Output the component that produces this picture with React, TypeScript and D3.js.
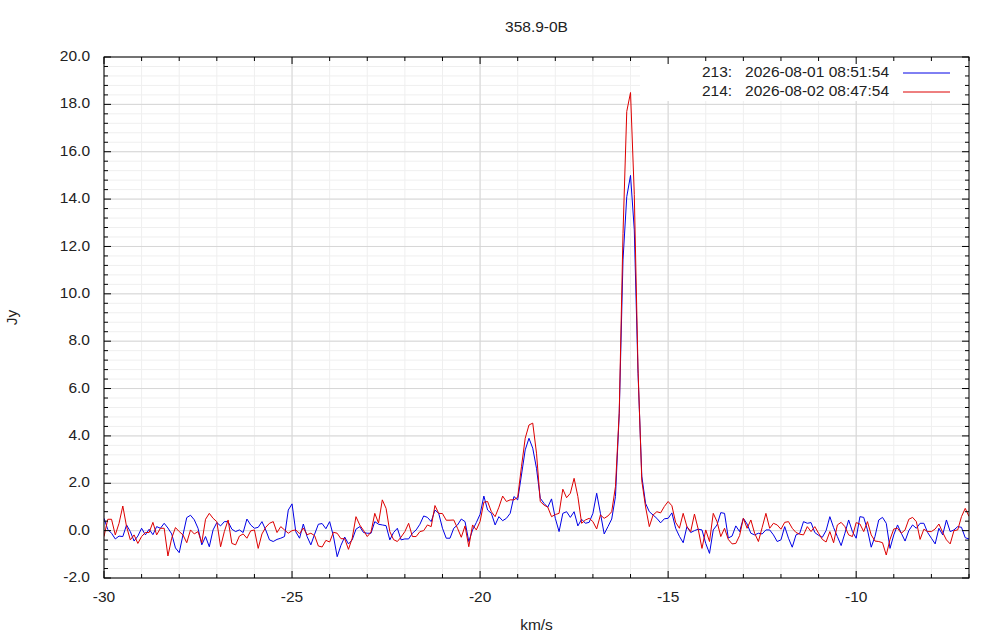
import React from 'react';
import * as d3 from 'd3';

// channel axis (km/s)
const V_START = -30;
const V_STEP = 0.1;

// scan 213 (2026-08-01 08:51:54), Jy per channel
const scan213 = [
  0.52, 0.05, -0.11, -0.35, -0.23, -0.25, 0.24, -0.04, -0.44, -0.23,
  0.1, -0.18, 0.06, -0.17, 0.17, 0.1, 0.31, 0.11, -0.14, -0.73,
  -0.93, -0.18, 0.55, 0.65, 0.46, 0.1, -0.6, -0.25, -0.68, 0.03,
  0.34, 0.2, 0.38, 0.38, 0.06, -0.04, 0.03, -0.08, 0.49, 0.24,
  0.1, 0.14, 0.38, 0.03, -0.39, -0.46, -0.37, -0.32, -0.25, 0.87,
  1.13, -0.05, -0.32, 0.28, -0.25, -0.6, -0.15, 0.27, 0.3, 0.08,
  0.38, -0.23, -1.1, -0.62, -0.27, -0.56, -0.39, 0.06, 0.17, -0.08,
  -0.11, -0.11, 0.38, 0.27, 0.24, 0.21, -0.39, -0.08, 0.1, -0.39,
  -0.35, -0.35, -0.11, 0.03, 0.27, 0.62, 0.56, 0.38, 0.87, 0.73,
  0.1, -0.32, -0.32, 0.1, 0.24, 0.49, 0.38, -0.46, 0.03, 0.34,
  0.69, 1.46, 0.87, 0.73, 0.24, 0.59, 0.42, 0.52, 0.73, 1.44,
  1.3, 2.35, 3.41, 3.9, 3.48, 2.63, 1.37, 1.15, 0.99, 1.34,
  0.52, -0.04, 0.73, 0.8, 0.56, 0.8, 0.2, 0.48, 0.31, 0.35,
  0.73, 1.58, 0.73, -0.14, 0.17, 0.49, 1.44, 4.95, 11.43, 14.1,
  15.0, 12.7, 6.63, 2.3, 1.15, 0.8, 0.66, 0.52, 0.33, 0.5,
  0.52, 0.75, 0.1, -0.24, -0.51, 0.17, -0.08, 0.0, 0.06, 0.03,
  -0.54, -0.96, 0.03, 0.24, 0.76, 0.73, -0.31, -0.23, 0.2, -0.04,
  0.52, 0.28, -0.11, -0.18, -0.11, -0.14, 0.03, 0.03, -0.18, -0.46,
  -0.39, 0.17, -0.32, -0.7, -0.18, -0.11, 0.38, 0.31, 0.34, -0.08,
  -0.2, -0.28, 0.0, 0.59, 0.13, -0.25, -0.63, -0.11, 0.45, -0.04,
  -0.32, 0.59, 0.56, 0.03, -0.7, -0.25, 0.45, 0.56, 0.31, -0.75,
  -0.18, 0.24, -0.11, -0.44, 0.0, 0.24, 0.1, 0.31, 0.31, -0.08,
  -0.32, -0.56, 0.1, -0.18, 0.45, -0.04, 0.03, 0.17, 0.14, -0.3,
  -0.35,
];

// scan 214 (2026-08-02 08:47:54)
const scan214 = [
  -0.25, 0.48, 0.48, -0.18, 0.31, 1.04, 0.17, -0.39, -0.18, -0.54,
  -0.25, -0.08, -0.08, 0.35, -0.18, 0.1, 0.1, -1.07, -0.32, 0.13,
  -0.04, -0.18, -0.51, 0.03, -0.14, -0.04, -0.51, 0.48, 0.73, 0.52,
  0.38, -0.68, -0.04, 0.45, -0.54, -0.6, -0.23, -0.14, -0.32, -0.01,
  0.03, -0.75, -0.14, 0.14, 0.31, 0.38, -0.08, 0.17, 0.03, -0.11,
  0.0, 0.03, -0.13, 0.11, -0.17, -0.11, -0.21, -0.65, -0.69, -0.41,
  -0.48, -0.07, -0.11, -0.34, -0.34, -0.79, -0.32, 0.59, 0.24, 0.01,
  -0.25, -0.06, 0.73, 0.32, 1.3, 0.94, -0.04, -0.38, -0.46, -0.27,
  -0.04, 0.31, -0.25, -0.25, -0.04, 0.0, 0.24, 0.17, 1.06, 0.73,
  0.72, 0.44, 0.44, 0.45, 0.1, -0.28, 0.2, -0.68, 0.24, 0.03,
  0.39, 1.2, 1.23, 0.8, 0.59, 0.99, 1.46, 1.23, 1.3, 1.3,
  1.41, 2.7, 3.9, 4.46, 4.54, 3.27, 1.23, 1.08, 0.99, 0.59,
  0.68, 0.73, 1.75, 1.39, 1.58, 2.21, 1.44, 0.31, 0.45, 0.52,
  0.38, 0.07, 0.66, 0.52, 0.62, 0.8, 1.86, 5.0, 12.55, 17.7,
  18.5, 14.2, 6.8, 2.1, 1.0, 0.17, 0.66, 0.8, 0.75, 1.02,
  1.23, 1.05, 0.35, 0.1, 0.73, 0.17, -0.04, 0.7, 0.06, -0.75,
  0.03, -0.46, 0.73, 0.38, -0.25, 0.1, -0.37, -0.56, -0.54, -0.21,
  0.52, 0.1, 0.45, -0.11, -0.46, 0.13, 0.73, 0.1, 0.31, 0.24,
  0.06, 0.35, 0.38, 0.1, -0.08, -0.15, -0.18, 0.17, -0.04, 0.17,
  -0.11, -0.37, -0.48, -0.04, -0.51, 0.24, 0.35, 0.17, -0.18, -0.25,
  0.34, 0.28, -0.04, 0.38, -0.18, -0.44, -0.46, -0.51, -1.03, -0.37,
  0.07, 0.1, -0.11, 0.03, 0.48, 0.56, 0.38, -0.37, 0.06, -0.04,
  -0.04, 0.07, 0.28, -0.08, -0.39, -0.56, 0.0, 0.03, 0.59, 0.94,
  0.6,
];

const seriesLabels = ['213:   2026-08-01 08:51:54', '214:   2026-08-02 08:47:54'];
const seriesColors = ['#0000e6', '#dd0000'];

const xTicks = [-30, -25, -20, -15, -10];
const yTicks = [-2, 0, 2, 4, 6, 8, 10, 12, 14, 16, 18, 20];

const W = 1000;
const H = 640;
const M = { top: 57, right: 31, bottom: 62, left: 104 };
const FONT = '"Liberation Sans", Arial, sans-serif';
const FS = 15.5;

export default function App() {
  const x = d3.scaleLinear().domain([-30, -7]).range([M.left, W - M.right]);
  const y = d3.scaleLinear().domain([-2, 20]).range([H - M.bottom, M.top]);

  const xMinor = d3.range(-30, -7 + 1e-9, 1);
  const yMinor = d3.range(0, 56).map(i => -2 + i * 0.4);

  const line = d3
    .line<number>()
    .x((_, i) => x(V_START + i * V_STEP))
    .y(d => y(d));

  const x0 = x.range()[0];
  const x1 = x.range()[1];
  const y0 = y.range()[0];
  const y1 = y.range()[1];
  const series = [scan213, scan214];

  return (
    <svg
      width={W}
      height={H}
      style={{ position: 'absolute', left: 0, top: 0, background: '#fff' }}
      fontFamily={FONT}
    >
      <defs>
        <clipPath id="plot">
          <rect x={x0} y={y1} width={x1 - x0} height={y0 - y1} />
        </clipPath>
      </defs>

      {/* minor grid */}
      {xMinor.map(v => (
        <line key={'xm' + v} x1={x(v)} x2={x(v)} y1={y0} y2={y1} stroke="#efefef" />
      ))}
      {yMinor.map(v => (
        <line key={'ym' + v} x1={x0} x2={x1} y1={y(v)} y2={y(v)} stroke="#efefef" />
      ))}
      {/* major grid */}
      {xTicks.map(v => (
        <line key={'xg' + v} x1={x(v)} x2={x(v)} y1={y0} y2={y1} stroke="#d6d6d6" />
      ))}
      {yTicks.map(v => (
        <line key={'yg' + v} x1={x0} x2={x1} y1={y(v)} y2={y(v)} stroke="#d6d6d6" />
      ))}

      {/* key background */}
      <rect x={640} y={y1} width={x1 - 640} height={44} fill="#fff" />

      {/* spectra */}
      <g clipPath="url(#plot)" fill="none" strokeWidth={1}>
        {series.map((s, i) => (
          <path key={i} d={line(s) || ''} stroke={seriesColors[i]} />
        ))}
      </g>

      {/* ticks on all four sides */}
      <g stroke="#000">
        {xMinor.map(v => (
          <g key={'xt' + v}>
            <line x1={x(v)} x2={x(v)} y1={y0} y2={y0 - (xTicks.includes(v) ? 7 : 4)} />
            <line x1={x(v)} x2={x(v)} y1={y1} y2={y1 + (xTicks.includes(v) ? 7 : 4)} />
          </g>
        ))}
        {yMinor.map((v, i) => (
          <g key={'yt' + i}>
            <line x1={x0} x2={x0 + (i % 5 === 0 ? 7 : 4)} y1={y(v)} y2={y(v)} />
            <line x1={x1} x2={x1 - (i % 5 === 0 ? 7 : 4)} y1={y(v)} y2={y(v)} />
          </g>
        ))}
      </g>

      <rect x={x0} y={y1} width={x1 - x0} height={y0 - y1} fill="none" stroke="#000" />

      {/* tick labels */}
      <g fontSize={FS} fill="#222">
        {yTicks.map(v => (
          <text key={'yl' + v} x={x0 - 14} y={y(v)} textAnchor="end" dominantBaseline="middle">
            {v.toFixed(1)}
          </text>
        ))}
        {xTicks.map(v => (
          <text key={'xl' + v} x={x(v)} y={598} textAnchor="middle" dominantBaseline="middle">
            {String(v)}
          </text>
        ))}
        <text x={(x0 + x1) / 2} y={28} textAnchor="middle" dominantBaseline="middle">
          358.9-0B
        </text>
        <text x={(x0 + x1) / 2} y={626} textAnchor="middle" dominantBaseline="middle">
          km/s
        </text>
        <text
          transform={`translate(13,${(y0 + y1) / 2}) rotate(-90)`}
          textAnchor="middle"
          dominantBaseline="middle"
        >
          Jy
        </text>
      </g>

      {/* key */}
      <g fontSize={FS} fill="#222">
        {seriesLabels.map((lab, i) => (
          <g key={lab}>
            <text
              x={889}
              y={73 + i * 19}
              textAnchor="end"
              dominantBaseline="middle"
              style={{ whiteSpace: 'pre' }}
            >
              {lab}
            </text>
            <line x1={903} x2={950} y1={73 + i * 19} y2={73 + i * 19} stroke={seriesColors[i]} />
          </g>
        ))}
      </g>
    </svg>
  );
}
